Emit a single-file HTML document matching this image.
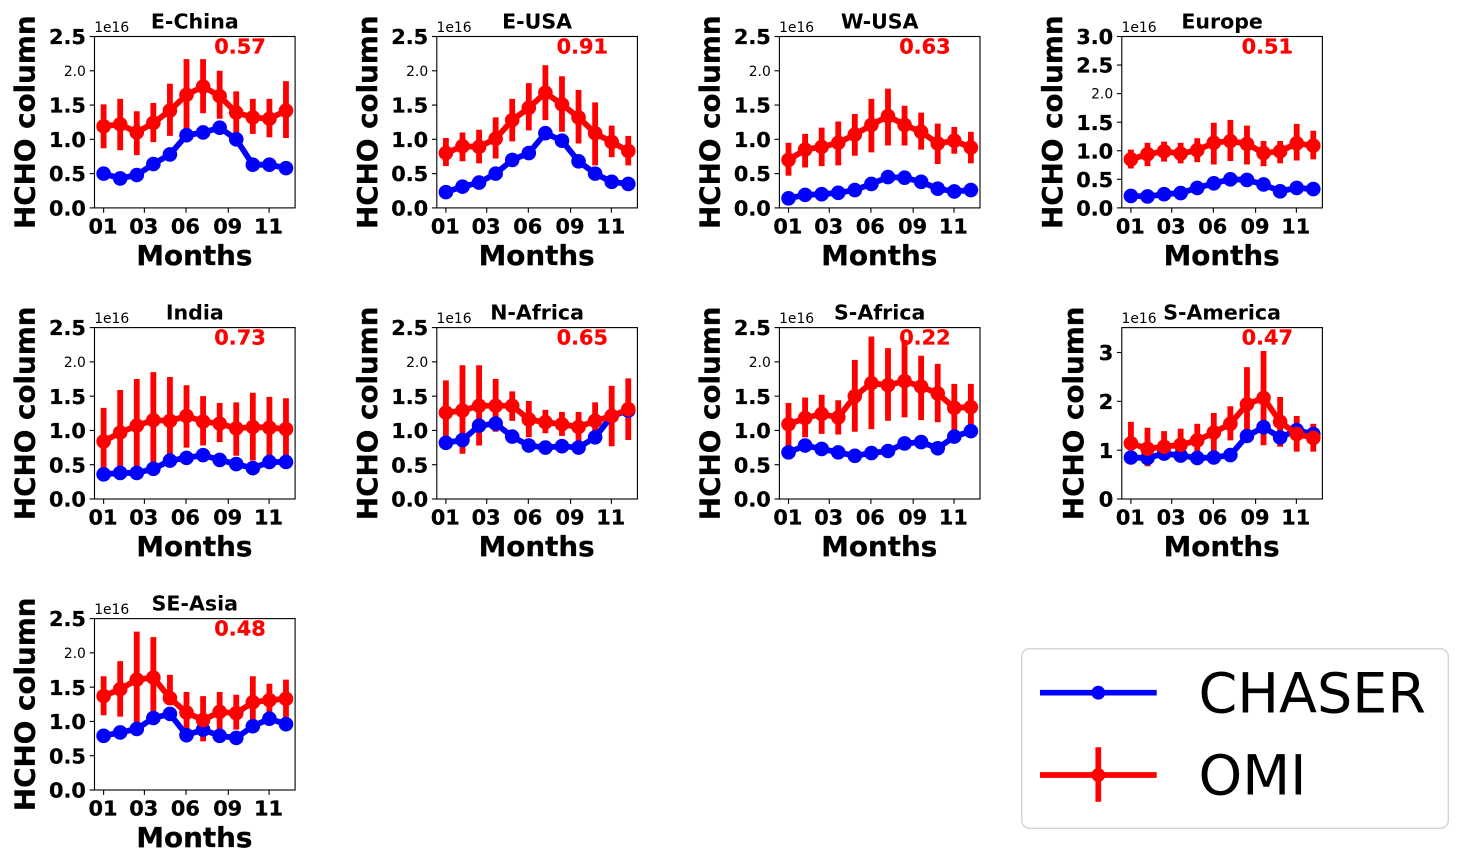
<!DOCTYPE html>
<html lang="en">
<head>
<meta charset="utf-8">
<title>HCHO column by region</title>
<style>
html,body{margin:0;padding:0;background:#fff;}
body{width:1463px;height:860px;overflow:hidden;}
svg{display:block;font-family:"DejaVu Sans","Liberation Sans",sans-serif;}
</style>
</head>
<body>
<svg id="figure" xmlns="http://www.w3.org/2000/svg" width="1463" height="860" viewBox="0 0 1463 860">
  <rect x="0" y="0" width="1463" height="860" fill="#ffffff"/>
  <g id="panels"></g>
  <g id="legend">
    <rect x="1021.7" y="648.7" width="426.6" height="179.6" rx="8" ry="8" fill="#ffffff" stroke="#d4d4d4" stroke-width="1.4"/>
    <g>
      <line x1="1040" y1="692.7" x2="1156.7" y2="692.7" stroke="#0000ff" stroke-width="5.7"/>
      <circle cx="1098.3" cy="692.7" r="6.9" fill="#0000ff"/>
      <text x="1198.5" y="712.4" font-size="55.56" fill="#000">CHASER</text>
    </g>
    <g>
      <line x1="1098.3" y1="747.3" x2="1098.3" y2="801.7" stroke="#ff0000" stroke-width="5.7"/>
      <line x1="1040" y1="775" x2="1156.7" y2="775" stroke="#ff0000" stroke-width="5.7"/>
      <circle cx="1098.3" cy="775" r="6.9" fill="#ff0000"/>
      <text x="1198.5" y="794.4" font-size="55.56" fill="#000">OMI</text>
    </g>
  </g>
</svg>
<script>
// ---- shared axis data ----
const months = [1,2,3,4,5,6,7,8,9,10,11,12];
const xTickLabels = ['01','03','06','09','11'];
const xTickPositions = [1,3.46,5.97,8.52,10.98];
const yTicks25 = ['0.0','0.5','1.0','1.5','2.0','2.5'];
const yTicks30 = ['0.0','0.5','1.0','1.5','2.0','2.5','3.0'];
const yTicks3 = ['0','1','2','3'];

// ---- E-China ----
const chaserEChina = [0.50,0.43,0.48,0.64,0.78,1.06,1.10,1.17,1.00,0.63,0.63,0.58];
const omiEChina = [1.19,1.22,1.10,1.24,1.42,1.65,1.77,1.63,1.39,1.32,1.30,1.42];
const omiHighEChina = [1.51,1.59,1.41,1.53,1.81,2.17,2.17,2.00,1.70,1.59,1.59,1.85];
const omiLowEChina = [0.87,0.84,0.77,0.96,1.05,1.10,1.38,1.30,1.08,1.08,1.03,1.02];
// ---- E-USA ----
const chaserEUSA = [0.23,0.31,0.37,0.50,0.70,0.80,1.09,0.98,0.68,0.50,0.38,0.35];
const omiEUSA = [0.80,0.90,0.89,1.01,1.28,1.46,1.68,1.51,1.32,1.09,0.96,0.83];
const omiHighEUSA = [1.02,1.10,1.14,1.32,1.59,1.82,2.08,1.92,1.72,1.54,1.20,1.05];
const omiLowEUSA = [0.61,0.68,0.65,0.72,0.97,1.13,1.28,1.11,0.94,0.62,0.74,0.62];
// ---- W-USA ----
const chaserWUSA = [0.14,0.19,0.20,0.22,0.26,0.35,0.45,0.44,0.38,0.28,0.24,0.26];
const omiWUSA = [0.70,0.85,0.89,0.95,1.07,1.21,1.34,1.21,1.11,0.94,0.98,0.88];
const omiHighWUSA = [0.95,1.08,1.17,1.26,1.37,1.59,1.74,1.49,1.39,1.23,1.18,1.11];
const omiLowWUSA = [0.47,0.59,0.61,0.62,0.76,0.81,0.91,0.91,0.85,0.64,0.79,0.65];
// ---- Europe ----
const chaserEurope = [0.21,0.20,0.24,0.26,0.35,0.43,0.50,0.49,0.41,0.29,0.35,0.33];
const omiEurope = [0.85,0.94,0.99,0.95,1.01,1.14,1.17,1.12,0.96,0.99,1.13,1.09];
const omiHighEurope = [1.02,1.14,1.16,1.14,1.22,1.49,1.54,1.44,1.17,1.17,1.47,1.35];
const omiLowEurope = [0.69,0.73,0.81,0.78,0.80,0.76,0.82,0.76,0.73,0.78,0.83,0.85];
// ---- India ----
const chaserIndia = [0.36,0.38,0.38,0.44,0.56,0.60,0.64,0.57,0.51,0.45,0.54,0.54];
const omiIndia = [0.84,0.97,1.07,1.15,1.14,1.21,1.13,1.10,1.03,1.05,1.04,1.02];
const omiHighIndia = [1.33,1.59,1.75,1.85,1.78,1.66,1.50,1.40,1.41,1.55,1.49,1.47];
const omiLowIndia = [0.35,0.35,0.40,0.45,0.52,0.75,0.78,0.83,0.63,0.56,0.60,0.57];
// ---- N-Africa ----
const chaserNAfrica = [0.82,0.86,1.07,1.10,0.91,0.78,0.75,0.77,0.75,0.90,1.21,1.29];
const omiNAfrica = [1.26,1.29,1.36,1.36,1.36,1.16,1.12,1.09,1.05,1.14,1.21,1.31];
const omiHighNAfrica = [1.73,1.95,1.95,1.75,1.57,1.43,1.30,1.27,1.27,1.41,1.65,1.76];
const omiLowNAfrica = [0.86,0.66,0.78,0.98,1.14,0.90,0.96,0.92,0.84,1.00,0.77,0.86];
// ---- S-Africa ----
const chaserSAfrica = [0.68,0.78,0.73,0.68,0.63,0.67,0.70,0.81,0.83,0.74,0.91,0.99];
const omiSAfrica = [1.09,1.18,1.24,1.19,1.50,1.69,1.66,1.72,1.64,1.54,1.33,1.34];
const omiHighSAfrica = [1.40,1.48,1.52,1.44,2.03,2.37,2.20,2.32,2.09,1.97,1.68,1.68];
const omiLowSAfrica = [0.74,0.90,0.95,0.94,0.98,1.02,1.14,1.19,1.15,1.12,0.95,1.00];
// ---- S-America ----
const chaserSAmerica = [0.85,0.84,0.93,0.89,0.84,0.85,0.90,1.29,1.47,1.26,1.41,1.33];
const omiSAmerica = [1.14,1.03,1.07,1.11,1.20,1.36,1.54,1.94,2.07,1.58,1.33,1.25];
const omiHighSAmerica = [1.58,1.46,1.39,1.44,1.54,1.76,1.90,2.70,3.03,2.09,1.70,1.54];
const omiLowSAmerica = [1.02,0.67,0.79,0.87,0.94,0.94,1.20,1.38,1.10,1.07,0.97,0.97];
// ---- SE-Asia ----
const chaserSEAsia = [0.79,0.84,0.89,1.05,1.11,0.80,0.88,0.79,0.76,0.93,1.04,0.96];
const omiSEAsia = [1.37,1.47,1.61,1.64,1.34,1.13,1.02,1.14,1.12,1.28,1.31,1.33];
const omiHighSEAsia = [1.66,1.88,2.31,2.23,1.68,1.43,1.37,1.43,1.39,1.66,1.55,1.61];
const omiLowSEAsia = [1.09,1.07,0.95,1.12,1.26,0.88,0.71,0.89,0.88,1.02,1.09,1.02];

// ---- panel descriptors ----
const regionNames = ['E-China','E-USA','W-USA','Europe','India','N-Africa','S-Africa','S-America','SE-Asia'];
const correlations = ['0.57','0.91','0.63','0.51','0.73','0.65','0.22','0.47','0.48'];
const yMaxima = [2.5,2.5,2.5,3.0,2.5,2.5,2.5,3.51,2.5];
const yTickSets = [yTicks25,yTicks25,yTicks25,yTicks30,yTicks25,yTicks25,yTicks25,yTicks3,yTicks25];
const chaserSeries = [chaserEChina,chaserEUSA,chaserWUSA,chaserEurope,chaserIndia,chaserNAfrica,chaserSAfrica,chaserSAmerica,chaserSEAsia];
const omiSeries = [omiEChina,omiEUSA,omiWUSA,omiEurope,omiIndia,omiNAfrica,omiSAfrica,omiSAmerica,omiSEAsia];
const omiHighSeries = [omiHighEChina,omiHighEUSA,omiHighWUSA,omiHighEurope,omiHighIndia,omiHighNAfrica,omiHighSAfrica,omiHighSAmerica,omiHighSEAsia];
const omiLowSeries = [omiLowEChina,omiLowEUSA,omiLowWUSA,omiLowEurope,omiLowIndia,omiLowNAfrica,omiLowSAfrica,omiLowSAmerica,omiLowSEAsia];

// ---- layout (not data) ----
const NS = 'http://www.w3.org/2000/svg';
const colLeft = [94.5,436.8,779.4,1121.8];
const rowTop = [36.5,327.6,618.6];
const axW = 200.6, axH = 171.4;
const PT = 100/72;
const BOLD_STROKE = 0.3;

function mk(parent, tag, attrs, txt){
  const el = document.createElementNS(NS, tag);
  for (const k in attrs) el.setAttribute(k, attrs[k]);
  if (txt !== undefined) el.textContent = txt;
  parent.appendChild(el);
  return el;
}

function slug(s){ return s.toLowerCase(); }

function drawPanel(p){
  const root = document.getElementById('panels');
  const left = colLeft[p % 4], top = rowTop[Math.floor(p / 4)];
  const bottom = top + axH, right = left + axW;
  const yMax = yMaxima[p];
  const x = m => left + (m - 1 + 0.55) / 12.1 * axW;
  const y = v => bottom - v / yMax * axH;
  const name = slug(regionNames[p]);

  const g = mk(root, 'g', {});
  
  

  // OMI error bars (drawn underneath the lines)
  const bars = mk(g, 'g', {stroke:'#ff0000','stroke-width':5.8});
  
  
  months.forEach((m, i) => {
    const b = mk(bars, 'line', {x1:x(m), x2:x(m), y1:y(omiLowSeries[p][i]), y2:y(omiHighSeries[p][i])});
    
    
  });

  // Series lines and markers
  [[chaserSeries[p],'#0000ff','chaser'],[omiSeries[p],'#ff0000','omi']].forEach(s => {
    const vals = s[0], col = s[1], label = s[2];
    const sg = mk(g, 'g', {});
    
    
    const pts = months.map((m, i) => x(m).toFixed(2) + ',' + y(vals[i]).toFixed(2)).join(' ');
    const ln = mk(sg, 'polyline', {points:pts, fill:'none', stroke:col, 'stroke-width':5.8, 'stroke-linejoin':'round'});
    
    
    months.forEach((m, i) => {
      const c = mk(sg, 'circle', {cx:x(m), cy:y(vals[i]), r:7.3, fill:col});
      
      
    });
  });

  // Frame
  const frame = mk(g, 'rect', {x:left, y:top, width:axW, height:axH, fill:'none', stroke:'#000', 'stroke-width':1.11});
  
  

  // X ticks
  xTickLabels.forEach((lab, i) => {
    const tx = x(xTickPositions[i]);
    const t = mk(g, 'line', {x1:tx, x2:tx, y1:bottom, y2:bottom + 4.86, stroke:'#000', 'stroke-width':1.11});
    
    
    const tl = mk(g, 'text', {x:tx - 0.6, y:bottom + 25.5, 'text-anchor':'middle', 'font-size':15 * PT, 'font-weight':'bold', fill:'#000', stroke:'#000', 'stroke-width':BOLD_STROKE}, lab);
    
    
  });

  // Y ticks (the 2.0 label stays small and regular, as in the reference)
  yTickSets[p].forEach(lab => {
    const v = parseFloat(lab);
    const ty = y(v);
    const t = mk(g, 'line', {x1:left - 4.86, x2:left, y1:ty, y2:ty, stroke:'#000', 'stroke-width':1.11});
    
    
    const small = lab === '2.0';
    const fs = (small ? 10 : 15) * PT;
    const tl = mk(g, 'text', {x:left - 8.6, y:ty + fs * 0.3645, 'text-anchor':'end', 'font-size':fs, 'font-weight':small ? 'normal' : 'bold', fill:'#000', stroke:small ? 'none' : '#000', 'stroke-width':BOLD_STROKE}, lab);
    
    
  });

  // Axis titles
  const xt = mk(g, 'text', {x:left + axW / 2 - 0.4, y:bottom + 57.2, 'text-anchor':'middle', 'font-size':20 * PT, 'font-weight':'bold', fill:'#000', stroke:'#000', 'stroke-width':BOLD_STROKE}, 'Months');
  
  

  const ylOffset = yTickSets[p] === yTicks3 ? 38.9 : 60;
  const yBase = left - ylOffset, yMid = top + axH / 2;
  const yt = mk(g, 'text', {x:yBase, y:yMid, transform:'rotate(-90 ' + yBase + ' ' + yMid + ')', 'text-anchor':'middle', 'font-size':20 * PT, 'font-weight':'bold', fill:'#000', stroke:'#000', 'stroke-width':BOLD_STROKE}, 'HCHO column');
  
  

  // Title, offset, correlation
  const ti = mk(g, 'text', {x:left + axW / 2, y:top - 8.2, 'text-anchor':'middle', 'font-size':14.8 * PT, 'font-weight':'bold', fill:'#000'}, regionNames[p]);
  
  

  const off = mk(g, 'text', {x:left - 0.3, y:top - 4.4, 'font-size':10 * PT, fill:'#000'}, '1e16');
  
  

  const co = mk(g, 'text', {x:left + 119.8, y:top + 16.9, 'font-size':15 * PT, 'font-weight':'bold', fill:'#ff0000', stroke:'#ff0000', 'stroke-width':BOLD_STROKE}, correlations[p]);
  
  
}

regionNames.forEach((_, p) => drawPanel(p));
</script>
</body>
</html>
